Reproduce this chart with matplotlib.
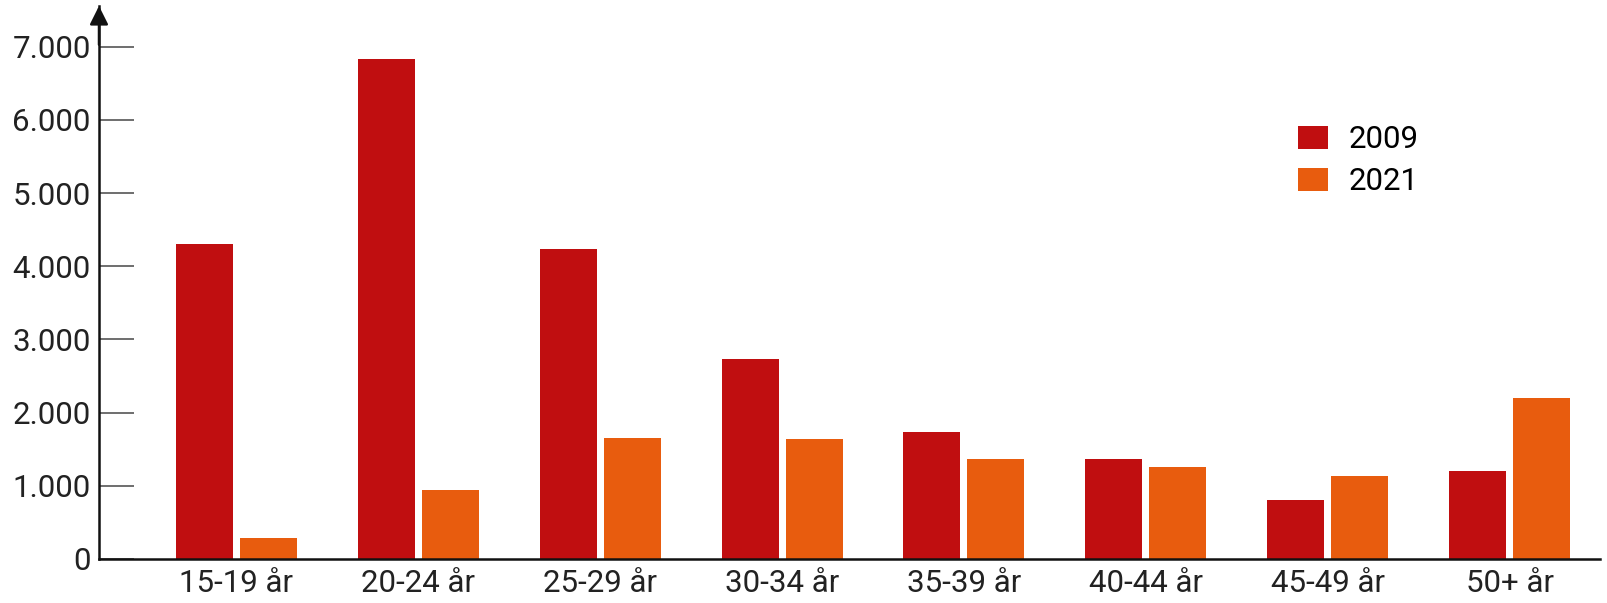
import matplotlib
matplotlib.use("Agg")
import matplotlib.pyplot as plt
import numpy as np

categories = ["15-19 år", "20-24 år", "25-29 år", "30-34 år", "35-39 år", "40-44 år", "45-49 år", "50+ år"]
values_2009 = [4310, 6830, 4240, 2730, 1740, 1360, 810, 1200]
values_2021 = [290, 940, 1650, 1640, 1370, 1260, 1130, 2200]
series_labels = ["2009", "2021"]
yticks = [0, 1000, 2000, 3000, 4000, 5000, 6000, 7000]
ytick_labels = ["0", "1.000", "2.000", "3.000", "4.000", "5.000", "6.000", "7.000"]

plt.rcParams['font.family'] = ['Roboto', 'DejaVu Sans']

W, H = 1607, 603
fig = plt.figure(figsize=(W/100, H/100), dpi=100)
ax = fig.add_axes([99/W, 44/H, (1600-99)/W, (559-6)/H])

x = np.arange(len(categories))
bw = 0.313
off = 0.0195 + bw/2
c1, c2 = "#C00E10", "#E85C0E"
ax.bar(x - off, values_2009, bw, color=c1, label=series_labels[0])
ax.bar(x + off, values_2021, bw, color=c2, label=series_labels[1])

fs = 22.5
ax.set_xlim(-0.756, 7.4975)
ax.set_ylim(0, 7555)
ax.set_yticks(yticks)
ax.set_yticklabels(ytick_labels)
ax.set_xticks(x)
ax.set_xticklabels(categories)
ax.tick_params(axis='y', direction='in', length=25, width=1.2, color='#555555', labelsize=fs, labelcolor='#222222', pad=6)
ax.tick_params(axis='x', length=0, labelsize=fs, labelcolor='#222222', pad=7)
for s in ['top', 'right']:
    ax.spines[s].set_visible(False)
ax.spines['left'].set_linewidth(1.8)
ax.spines['bottom'].set_linewidth(1.8)
ax.spines['left'].set_color('#111111')
ax.spines['bottom'].set_color('#111111')

# arrow on y axis
ax.annotate('', xy=(0, 1.0), xytext=(0, 0.93), xycoords='axes fraction',
            arrowprops=dict(arrowstyle='-|>', color='#111111', lw=1.8, mutation_scale=28,
                            shrinkA=0, shrinkB=0))

leg = ax.legend(loc='upper left', frameon=False, fontsize=fs,
                borderpad=0, borderaxespad=0,
                handlelength=0.95, handleheight=0.76, handletextpad=0.67, labelspacing=0.43)
leg.set_bbox_to_anchor((1298/W, 1 - 125/H), transform=fig.transFigure)

fig.savefig("out.png", dpi=100)
